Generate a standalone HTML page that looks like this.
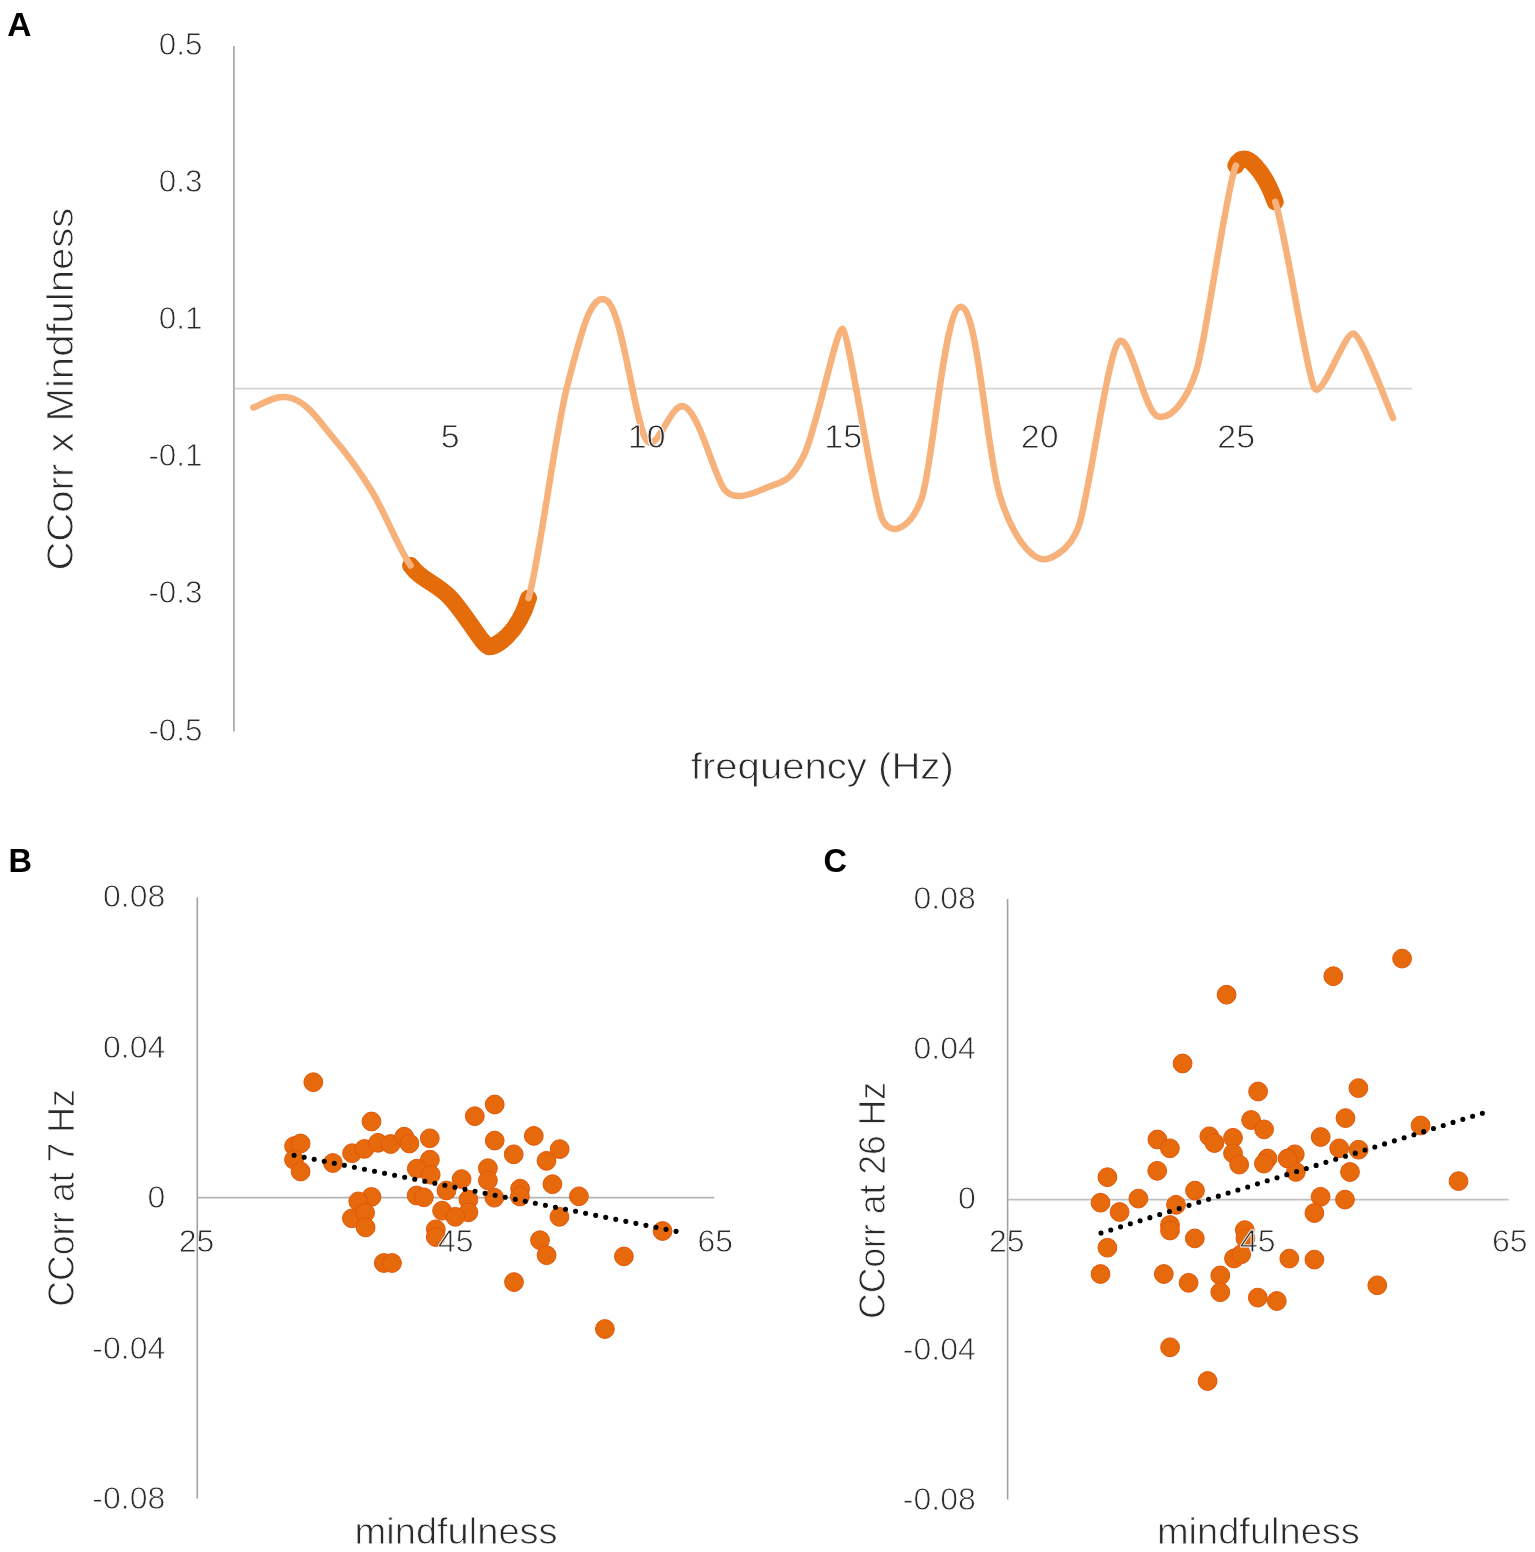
<!DOCTYPE html>
<html><head><meta charset="utf-8"><title>Figure</title>
<style>html,body{margin:0;padding:0;background:#fff;}svg{display:block;}</style>
</head><body>
<svg width="1535" height="1552" viewBox="0 0 1535 1552">
<rect width="1535" height="1552" fill="#fff"/>
<g font-family="Liberation Sans, Arial, sans-serif" fill="#2b2b2b">
<text x="7.3" y="35.6" font-size="33.5" font-weight="bold" fill="#000">A</text>
<text x="8.6" y="871.7" font-size="32.5" font-weight="bold" fill="#000">B</text>
<text x="823.5" y="871.7" font-size="32.5" font-weight="bold" fill="#000">C</text>
<line x1="233.9" y1="45.9" x2="233.9" y2="731.4" stroke="#a0a0a0" stroke-width="1.6"/>
<line x1="234.6" y1="388.6" x2="1412" y2="388.6" stroke="#d3d3d3" stroke-width="1.8"/>
<g fill="none" stroke-linecap="round" stroke-linejoin="round">
<path d="M410.60,565.48 C422.15,581.22 434.73,581.64 449.90,597.31 C465.07,612.99 483.31,646.62 489.20,646.69 C495.09,646.75 517.37,635.44 528.50,598.19" stroke="#E46C0A" stroke-width="17.0"/>
<path d="M1235.90,165.60 C1245.07,145.97 1265.38,174.01 1275.20,201.84" stroke="#E46C0A" stroke-width="17.0"/>
<path d="M253.40,407.48 C259.88,406.00 276.42,392.54 292.70,398.50 C308.98,404.46 319.02,421.12 332.00,436.27 C344.98,451.41 357.07,466.80 371.30,490.19 C385.53,513.59 399.05,549.74 410.60,565.48" stroke="#F7B27C" stroke-width="6.5"/>
<path d="M528.50,598.19 C539.63,560.94 554.87,432.68 567.80,383.76 C580.73,334.84 591.28,289.48 607.10,300.83 C622.92,312.19 634.98,424.72 646.40,440.18 C657.82,455.64 670.90,397.81 685.70,407.22 C700.50,416.64 715.48,480.31 725.00,490.18 C734.52,500.04 747.27,496.06 764.30,488.66 C781.33,481.27 790.05,483.57 803.60,456.04 C817.15,428.51 836.80,324.10 842.90,329.00 C849.00,333.90 873.68,500.79 882.20,519.20 C890.72,537.61 910.14,529.47 921.50,498.78 C932.86,468.10 943.83,307.35 960.80,306.86 C977.77,306.38 986.31,452.35 1000.10,496.53 C1013.89,540.70 1031.04,555.41 1039.40,558.58 C1047.76,561.75 1069.15,552.53 1078.70,526.31 C1088.25,500.09 1106.87,358.39 1118.00,342.80 C1129.13,327.21 1143.79,411.49 1157.30,416.17 C1170.81,420.85 1187.20,399.98 1196.60,370.02 C1206.00,340.06 1226.73,185.22 1235.90,165.60" stroke="#F7B27C" stroke-width="6.5"/>
<path d="M1275.20,201.84 C1285.03,229.66 1306.97,375.56 1314.50,388.19 C1322.03,400.81 1344.89,330.21 1353.80,333.60 C1362.71,337.00 1387.12,405.27 1393.10,418.12" stroke="#F7B27C" stroke-width="6.5"/>
</g>
<text x="202.5" y="55.0" font-size="31.4" stroke="#fff" stroke-width="0.80" text-anchor="end">0.5</text>
<text x="202.5" y="192.1" font-size="31.4" stroke="#fff" stroke-width="0.80" text-anchor="end">0.3</text>
<text x="202.5" y="329.2" font-size="31.4" stroke="#fff" stroke-width="0.80" text-anchor="end">0.1</text>
<text x="202.5" y="466.3" font-size="31.4" stroke="#fff" stroke-width="0.80" text-anchor="end">-0.1</text>
<text x="202.5" y="603.4" font-size="31.4" stroke="#fff" stroke-width="0.80" text-anchor="end">-0.3</text>
<text x="202.5" y="740.5" font-size="31.4" stroke="#fff" stroke-width="0.80" text-anchor="end">-0.5</text>
<text x="450.2" y="448.1" font-size="33.9" stroke="#fff" stroke-width="0.80" text-anchor="middle">5</text>
<text x="646.7" y="448.1" font-size="33.9" stroke="#fff" stroke-width="0.80" text-anchor="middle">10</text>
<text x="843.2" y="448.1" font-size="33.9" stroke="#fff" stroke-width="0.80" text-anchor="middle">15</text>
<text x="1039.7" y="448.1" font-size="33.9" stroke="#fff" stroke-width="0.80" text-anchor="middle">20</text>
<text x="1236.2" y="448.1" font-size="33.9" stroke="#fff" stroke-width="0.80" text-anchor="middle">25</text>
<text x="822.3" y="778.9" font-size="37.6" stroke="#fff" stroke-width="0.80" text-anchor="middle" textLength="263.0" lengthAdjust="spacingAndGlyphs">frequency (Hz)</text>
<text x="73.2" y="389.1" font-size="36.6" stroke="#fff" stroke-width="0.80" text-anchor="middle" textLength="363.0" lengthAdjust="spacingAndGlyphs" transform="rotate(-90 73.2 389.1)">CCorr x Mindfulness</text>
<line x1="197.3" y1="897.2" x2="197.3" y2="1498.5" stroke="#a0a0a0" stroke-width="1.6"/>
<line x1="197.3" y1="1197.6" x2="714.3" y2="1197.6" stroke="#b4b4b4" stroke-width="1.8"/>
<g fill="#E66A0B" stroke="#E2570B" stroke-width="1">
<circle cx="313.3" cy="1082.2" r="9.4"/>
<circle cx="294.1" cy="1146.1" r="9.4"/>
<circle cx="300.6" cy="1143.5" r="9.4"/>
<circle cx="294.0" cy="1159.7" r="9.4"/>
<circle cx="300.6" cy="1171.5" r="9.4"/>
<circle cx="332.9" cy="1163.0" r="9.4"/>
<circle cx="371.5" cy="1121.5" r="9.4"/>
<circle cx="352.1" cy="1153.2" r="9.4"/>
<circle cx="364.4" cy="1148.9" r="9.4"/>
<circle cx="378.1" cy="1142.8" r="9.4"/>
<circle cx="390.7" cy="1144.0" r="9.4"/>
<circle cx="404.2" cy="1136.7" r="9.4"/>
<circle cx="409.4" cy="1143.5" r="9.4"/>
<circle cx="429.8" cy="1138.3" r="9.4"/>
<circle cx="429.9" cy="1159.7" r="9.4"/>
<circle cx="416.8" cy="1168.7" r="9.4"/>
<circle cx="430.7" cy="1174.7" r="9.4"/>
<circle cx="446.5" cy="1190.5" r="9.4"/>
<circle cx="461.6" cy="1179.1" r="9.4"/>
<circle cx="468.4" cy="1199.6" r="9.4"/>
<circle cx="468.4" cy="1212.3" r="9.4"/>
<circle cx="442.1" cy="1210.7" r="9.4"/>
<circle cx="455.3" cy="1216.8" r="9.4"/>
<circle cx="435.8" cy="1229.3" r="9.4"/>
<circle cx="435.8" cy="1237.0" r="9.4"/>
<circle cx="416.6" cy="1195.5" r="9.4"/>
<circle cx="423.9" cy="1197.3" r="9.4"/>
<circle cx="371.5" cy="1196.9" r="9.4"/>
<circle cx="358.3" cy="1201.4" r="9.4"/>
<circle cx="351.9" cy="1218.3" r="9.4"/>
<circle cx="365.1" cy="1212.8" r="9.4"/>
<circle cx="365.6" cy="1227.4" r="9.4"/>
<circle cx="383.8" cy="1263.0" r="9.4"/>
<circle cx="392.0" cy="1263.0" r="9.4"/>
<circle cx="474.8" cy="1116.2" r="9.4"/>
<circle cx="494.7" cy="1104.5" r="9.4"/>
<circle cx="494.7" cy="1140.6" r="9.4"/>
<circle cx="533.8" cy="1135.9" r="9.4"/>
<circle cx="513.7" cy="1154.3" r="9.4"/>
<circle cx="559.7" cy="1149.1" r="9.4"/>
<circle cx="546.5" cy="1160.8" r="9.4"/>
<circle cx="487.9" cy="1168.2" r="9.4"/>
<circle cx="487.9" cy="1180.4" r="9.4"/>
<circle cx="494.3" cy="1197.7" r="9.4"/>
<circle cx="552.4" cy="1184.2" r="9.4"/>
<circle cx="520.1" cy="1188.7" r="9.4"/>
<circle cx="519.9" cy="1196.5" r="9.4"/>
<circle cx="578.9" cy="1196.3" r="9.4"/>
<circle cx="559.4" cy="1216.8" r="9.4"/>
<circle cx="540.0" cy="1240.2" r="9.4"/>
<circle cx="546.6" cy="1255.2" r="9.4"/>
<circle cx="514.0" cy="1282.1" r="9.4"/>
<circle cx="623.9" cy="1256.4" r="9.4"/>
<circle cx="604.9" cy="1329.0" r="9.4"/>
<circle cx="662.6" cy="1231.0" r="9.4"/>
</g>
<line x1="294.1" y1="1155.2" x2="685.8" y2="1233.3" stroke="#000" stroke-width="5.1" stroke-linecap="round" stroke-dasharray="0 10.25"/>
<text x="165.3" y="907.0" font-size="32.0" stroke="#fff" stroke-width="0.80" text-anchor="end">0.08</text>
<text x="165.3" y="1058.0" font-size="32.0" stroke="#fff" stroke-width="0.80" text-anchor="end">0.04</text>
<text x="165.3" y="1208.0" font-size="32.0" stroke="#fff" stroke-width="0.80" text-anchor="end">0</text>
<text x="165.3" y="1358.6" font-size="32.0" stroke="#fff" stroke-width="0.80" text-anchor="end">-0.04</text>
<text x="165.3" y="1509.2" font-size="32.0" stroke="#fff" stroke-width="0.80" text-anchor="end">-0.08</text>
<text x="196.5" y="1252.2" font-size="32.0" stroke="#fff" stroke-width="0.80" text-anchor="middle">25</text>
<text x="455.8" y="1252.2" font-size="32.0" stroke="#fff" stroke-width="0.80" text-anchor="middle">45</text>
<text x="715.2" y="1252.2" font-size="32.0" stroke="#fff" stroke-width="0.80" text-anchor="middle">65</text>
<text x="73.5" y="1198.0" font-size="36.6" stroke="#fff" stroke-width="0.80" text-anchor="middle" textLength="217.5" lengthAdjust="spacingAndGlyphs" transform="rotate(-90 73.5 1198.0)">CCorr at 7 Hz</text>
<text x="456.1" y="1543.8" font-size="36.6" stroke="#fff" stroke-width="0.80" text-anchor="middle" textLength="203.0" lengthAdjust="spacingAndGlyphs">mindfulness</text>
<line x1="1007.6" y1="899.0" x2="1007.6" y2="1499.6" stroke="#a0a0a0" stroke-width="1.6"/>
<line x1="1007.6" y1="1199.6" x2="1508.7" y2="1199.6" stroke="#bfbfbf" stroke-width="1.8"/>
<g fill="#E66A0B" stroke="#E2570B" stroke-width="1">
<circle cx="1157.4" cy="1139.5" r="9.4"/>
<circle cx="1169.9" cy="1148.3" r="9.4"/>
<circle cx="1157.2" cy="1170.8" r="9.4"/>
<circle cx="1107.4" cy="1177.2" r="9.4"/>
<circle cx="1100.5" cy="1202.7" r="9.4"/>
<circle cx="1119.6" cy="1212.0" r="9.4"/>
<circle cx="1138.4" cy="1198.6" r="9.4"/>
<circle cx="1195.0" cy="1190.6" r="9.4"/>
<circle cx="1176.0" cy="1204.8" r="9.4"/>
<circle cx="1170.0" cy="1225.0" r="9.4"/>
<circle cx="1170.0" cy="1230.5" r="9.4"/>
<circle cx="1194.8" cy="1238.4" r="9.4"/>
<circle cx="1107.4" cy="1247.7" r="9.4"/>
<circle cx="1100.5" cy="1274.0" r="9.4"/>
<circle cx="1163.8" cy="1274.0" r="9.4"/>
<circle cx="1188.6" cy="1282.8" r="9.4"/>
<circle cx="1220.3" cy="1275.4" r="9.4"/>
<circle cx="1220.3" cy="1292.2" r="9.4"/>
<circle cx="1257.8" cy="1297.6" r="9.4"/>
<circle cx="1276.8" cy="1301.0" r="9.4"/>
<circle cx="1170.1" cy="1347.3" r="9.4"/>
<circle cx="1207.6" cy="1381.0" r="9.4"/>
<circle cx="1209.3" cy="1136.3" r="9.4"/>
<circle cx="1214.4" cy="1143.0" r="9.4"/>
<circle cx="1233.0" cy="1137.8" r="9.4"/>
<circle cx="1233.0" cy="1153.3" r="9.4"/>
<circle cx="1239.2" cy="1164.6" r="9.4"/>
<circle cx="1267.5" cy="1158.5" r="9.4"/>
<circle cx="1263.9" cy="1163.6" r="9.4"/>
<circle cx="1294.8" cy="1154.3" r="9.4"/>
<circle cx="1295.9" cy="1171.9" r="9.4"/>
<circle cx="1287.6" cy="1158.5" r="9.4"/>
<circle cx="1320.7" cy="1137.0" r="9.4"/>
<circle cx="1339.2" cy="1148.3" r="9.4"/>
<circle cx="1345.5" cy="1118.1" r="9.4"/>
<circle cx="1350.0" cy="1172.0" r="9.4"/>
<circle cx="1320.6" cy="1196.8" r="9.4"/>
<circle cx="1314.4" cy="1213.0" r="9.4"/>
<circle cx="1345.0" cy="1199.6" r="9.4"/>
<circle cx="1244.8" cy="1230.1" r="9.4"/>
<circle cx="1245.4" cy="1238.4" r="9.4"/>
<circle cx="1234.0" cy="1258.5" r="9.4"/>
<circle cx="1241.2" cy="1254.3" r="9.4"/>
<circle cx="1289.3" cy="1258.6" r="9.4"/>
<circle cx="1314.4" cy="1259.6" r="9.4"/>
<circle cx="1251.1" cy="1120.0" r="9.4"/>
<circle cx="1264.1" cy="1129.4" r="9.4"/>
<circle cx="1358.4" cy="1088.1" r="9.4"/>
<circle cx="1358.6" cy="1149.7" r="9.4"/>
<circle cx="1420.6" cy="1125.5" r="9.4"/>
<circle cx="1458.5" cy="1181.1" r="9.4"/>
<circle cx="1377.3" cy="1285.3" r="9.4"/>
<circle cx="1226.6" cy="994.7" r="9.4"/>
<circle cx="1333.3" cy="976.2" r="9.4"/>
<circle cx="1402.1" cy="958.6" r="9.4"/>
<circle cx="1182.6" cy="1063.5" r="9.4"/>
<circle cx="1258.1" cy="1091.5" r="9.4"/>
</g>
<line x1="1101.0" y1="1233.0" x2="1482.4" y2="1113.2" stroke="#000" stroke-width="5.1" stroke-linecap="round" stroke-dasharray="0 10.25"/>
<text x="975.8" y="908.6" font-size="32.0" stroke="#fff" stroke-width="0.80" text-anchor="end">0.08</text>
<text x="975.8" y="1059.4" font-size="32.0" stroke="#fff" stroke-width="0.80" text-anchor="end">0.04</text>
<text x="975.8" y="1209.4" font-size="32.0" stroke="#fff" stroke-width="0.80" text-anchor="end">0</text>
<text x="975.8" y="1360.0" font-size="32.0" stroke="#fff" stroke-width="0.80" text-anchor="end">-0.04</text>
<text x="975.8" y="1510.4" font-size="32.0" stroke="#fff" stroke-width="0.80" text-anchor="end">-0.08</text>
<text x="1006.7" y="1252.2" font-size="32.0" stroke="#fff" stroke-width="0.80" text-anchor="middle">25</text>
<text x="1257.7" y="1252.2" font-size="32.0" stroke="#fff" stroke-width="0.80" text-anchor="middle">45</text>
<text x="1509.8" y="1252.2" font-size="32.0" stroke="#fff" stroke-width="0.80" text-anchor="middle">65</text>
<text x="884.5" y="1200.5" font-size="36.6" stroke="#fff" stroke-width="0.80" text-anchor="middle" textLength="237.0" lengthAdjust="spacingAndGlyphs" transform="rotate(-90 884.5 1200.5)">CCorr at 26 Hz</text>
<text x="1258.4" y="1543.8" font-size="36.6" stroke="#fff" stroke-width="0.80" text-anchor="middle" textLength="203.0" lengthAdjust="spacingAndGlyphs">mindfulness</text>
</g>
</svg>
</body></html>
